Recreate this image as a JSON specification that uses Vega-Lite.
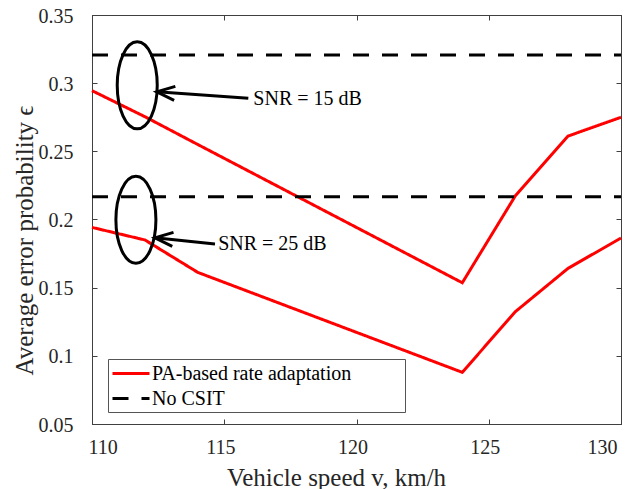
{
  "$schema": "https://vega.github.io/schema/vega-lite/v6.json",
  "width": 529,
  "height": 409,
  "autosize": {"type": "none"},
  "padding": {"left": 92, "top": 15, "right": 13, "bottom": 65},
  "background": "white",
  "config": {
    "font": "Liberation Serif",
    "view": {"stroke": "#404040", "strokeWidth": 1},
    "axis": {
      "domainColor": "#404040",
      "tickColor": "#404040",
      "tickSize": -5,
      "labelFont": "Liberation Serif",
      "labelFontSize": 20,
      "labelColor": "#262626",
      "titleFont": "Liberation Serif",
      "titleFontWeight": "normal",
      "titleColor": "#262626",
      "grid": false
    }
  },
  "datasets": {
    "curves": [
      {"series": "PA-based rate adaptation", "snr": "15 dB", "v": 110, "eps": 0.2945},
      {"series": "PA-based rate adaptation", "snr": "15 dB", "v": 112, "eps": 0.2754},
      {"series": "PA-based rate adaptation", "snr": "15 dB", "v": 114, "eps": 0.2550},
      {"series": "PA-based rate adaptation", "snr": "15 dB", "v": 124, "eps": 0.1536},
      {"series": "PA-based rate adaptation", "snr": "15 dB", "v": 126, "eps": 0.2172},
      {"series": "PA-based rate adaptation", "snr": "15 dB", "v": 128, "eps": 0.2612},
      {"series": "PA-based rate adaptation", "snr": "15 dB", "v": 130, "eps": 0.2750},
      {"series": "PA-based rate adaptation", "snr": "25 dB", "v": 110, "eps": 0.1942},
      {"series": "PA-based rate adaptation", "snr": "25 dB", "v": 112, "eps": 0.1850},
      {"series": "PA-based rate adaptation", "snr": "25 dB", "v": 114, "eps": 0.1612},
      {"series": "PA-based rate adaptation", "snr": "25 dB", "v": 124, "eps": 0.0879},
      {"series": "PA-based rate adaptation", "snr": "25 dB", "v": 126, "eps": 0.1323},
      {"series": "PA-based rate adaptation", "snr": "25 dB", "v": 128, "eps": 0.1642},
      {"series": "PA-based rate adaptation", "snr": "25 dB", "v": 130, "eps": 0.1864},
      {"series": "No CSIT", "snr": "15 dB", "v": 110, "eps": 0.3207},
      {"series": "No CSIT", "snr": "15 dB", "v": 130, "eps": 0.3207},
      {"series": "No CSIT", "snr": "25 dB", "v": 110, "eps": 0.2167},
      {"series": "No CSIT", "snr": "25 dB", "v": 130, "eps": 0.2167}
    ],
    "ellipses": [
      {"v": 111.71, "eps": 0.2984},
      {"v": 111.66, "eps": 0.1998}
    ],
    "arrows": [
      {"label": "SNR = 15 dB", "v": 115.91, "eps": 0.2889, "v2": 112.45, "eps2": 0.2937, "tv": 116.1, "teps": 0.2884},
      {"label": "SNR = 25 dB", "v": 114.65, "eps": 0.1820, "v2": 112.38, "eps2": 0.1866, "tv": 114.77, "teps": 0.1820}
    ]
  },
  "layer": [
    {
      "data": {"name": "curves"},
      "mark": {"type": "line", "strokeWidth": 3, "strokeCap": "butt"},
      "encoding": {
        "x": {
          "field": "v", "type": "quantitative",
          "scale": {"domain": [110, 130], "nice": false, "zero": false},
          "axis": {
            "orient": "bottom", "values": [110, 115, 120, 125, 130],
            "labelOffset": -4, "labelPadding": 34, "labelBaseline": "alphabetic",
            "title": "Vehicle speed v,  km/h", "titleFontSize": 25,
            "titleX": 244, "titleY": 61, "titleBaseline": "alphabetic", "titleAlign": "center"
          }
        },
        "y": {
          "field": "eps", "type": "quantitative",
          "scale": {"domain": [0.05, 0.35], "nice": false, "zero": false},
          "axis": {
            "orient": "left", "values": [0.05, 0.1, 0.15, 0.2, 0.25, 0.3, 0.35],
            "format": ".2~f", "labelPadding": 24, "labelOffset": 1,
            "title": "Average error probability  ϵ", "titleFontSize": 25,
            "titleX": -60, "titleY": 225, "titleBaseline": "alphabetic", "titleAlign": "center", "titleAngle": -90
          }
        },
        "color": {
          "field": "series", "type": "nominal",
          "scale": {"domain": ["PA-based rate adaptation", "No CSIT"], "range": ["#ff0000", "#000000"]},
          "legend": {
            "orient": "none", "legendX": 16, "legendY": 344, "title": null,
            "fillColor": "white", "strokeColor": "#555555", "padding": 3, "rowPadding": 3,
            "symbolType": "M-1,0L2.7,0", "symbolSize": 400, "symbolStrokeWidth": 3,
            "labelFont": "Liberation Serif", "labelFontSize": 20, "labelColor": "#000000", "labelOffset": 18,
            "labelLimit": 500,
            "labelExpr": "datum.label + '\u00a0\u00a0\u00a0\u00a0\u00a0\u00a0\u00a0\u00a0\u00a0\u00a0\u200b'"
          }
        },
        "strokeDash": {
          "field": "series", "type": "nominal",
          "scale": {"domain": ["PA-based rate adaptation", "No CSIT"], "range": [[1, 0], [16, 13]]},
          "legend": {
            "orient": "none", "legendX": 16, "legendY": 344, "title": null,
            "fillColor": "white", "strokeColor": "#555555", "padding": 3, "rowPadding": 3,
            "symbolType": "M-1,0L2.7,0", "symbolSize": 400, "symbolStrokeWidth": 3,
            "labelFont": "Liberation Serif", "labelFontSize": 20, "labelColor": "#000000", "labelOffset": 18,
            "labelLimit": 500,
            "labelExpr": "datum.label + '\u00a0\u00a0\u00a0\u00a0\u00a0\u00a0\u00a0\u00a0\u00a0\u00a0\u200b'"
          }
        },
        "detail": {"field": "snr"}
      }
    },
    {
      "data": {"name": "ellipses"},
      "mark": {
        "type": "point", "filled": false, "stroke": "#000000", "strokeWidth": 3, "opacity": 1,
        "size": 7569,
        "shape": "M0,-1C0.254,-1 0.46,-0.552 0.46,0C0.46,0.552 0.254,1 0,1C-0.254,1 -0.46,0.552 -0.46,0C-0.46,-0.552 -0.254,-1 0,-1Z"
      },
      "encoding": {
        "x": {"field": "v", "type": "quantitative", "axis": {"orient": "top", "values": [110, 115, 120, 125, 130], "labels": false, "title": null}},
        "y": {"field": "eps", "type": "quantitative", "axis": {"orient": "right", "values": [0.05, 0.1, 0.15, 0.2, 0.25, 0.3, 0.35], "labels": false, "title": null}}
      }
    },
    {
      "data": {"name": "arrows"},
      "mark": {"type": "rule", "stroke": "#000000", "strokeWidth": 3},
      "encoding": {
        "x": {"field": "v", "type": "quantitative", "axis": null},
        "y": {"field": "eps", "type": "quantitative", "axis": null},
        "x2": {"field": "v2"},
        "y2": {"field": "eps2"}
      }
    },
    {
      "data": {"name": "arrows"},
      "mark": {
        "type": "point", "filled": false, "stroke": "#000000", "strokeWidth": 3, "opacity": 1,
        "size": 1296, "angle": 5,
        "shape": "M1,-0.39L0,0L1,0.39"
      },
      "encoding": {
        "x": {"field": "v2", "type": "quantitative", "axis": null},
        "y": {"field": "eps2", "type": "quantitative", "axis": null}
      }
    },
    {
      "data": {"name": "arrows"},
      "mark": {"type": "text", "align": "left", "baseline": "middle", "font": "Liberation Serif", "fontSize": 20, "color": "#000000"},
      "encoding": {
        "x": {"field": "tv", "type": "quantitative", "axis": null},
        "y": {"field": "teps", "type": "quantitative", "axis": null},
        "text": {"field": "label"}
      }
    }
  ],
  "resolve": {"axis": {"x": "independent", "y": "independent"}}
}
